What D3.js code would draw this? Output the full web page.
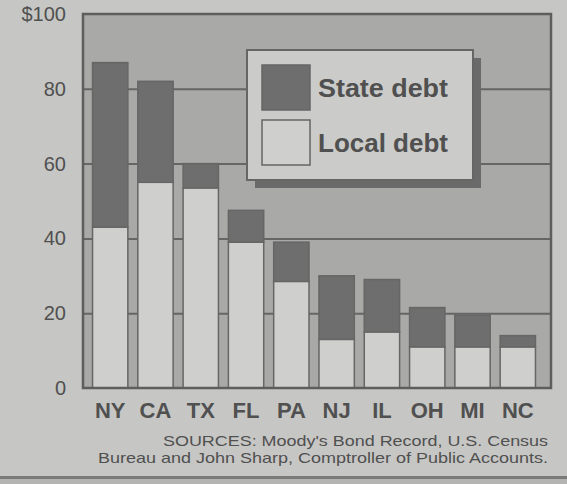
<!DOCTYPE html>
<meta charset="utf-8">
<body style="margin:0;background:#c6c6c4;">
<style>
  text { font-family: "Liberation Sans", Arial, sans-serif; fill: #505050; }
</style>
<div id="box"></div>
<script src="https://d3js.org/d3.v7.min.js"></script>
<script>
  // debt per capita, dollars
  var states = ["NY", "CA", "TX", "FL", "PA", "NJ", "IL", "OH", "MI", "NC"];
  var localDebt = [43, 55, 53.5, 39, 28.5, 13, 15, 11, 11, 11];
  var stateDebt = [44, 27, 6.5, 8.5, 10.5, 17, 14, 10.5, 8.5, 3];
  var yTicks = [0, 20, 40, 60, 80, 100];
  var seriesNames = ["State debt", "Local debt"];
  var sources = ["SOURCES: Moody's Bond Record, U.S. Census",
                 "Bureau and John Sharp, Comptroller of Public Accounts."];

  var W = 567, H = 484;
  var plot = {left: 83, top: 14, right: 551, bottom: 388};

  var svg = d3.select("#box").append("svg")
    .attr("width", W).attr("height", H);

  // paper
  svg.append("rect").attr("width", W).attr("height", H).attr("fill", "#c6c6c4");
  svg.append("rect").attr("x", 0).attr("y", 476).attr("width", W).attr("height", 3).attr("fill", "#7a7a7a");
  svg.append("rect").attr("x", 0).attr("y", 479).attr("width", W).attr("height", 5).attr("fill", "#b4b4b2");

  var x = d3.scaleBand().domain(states).range([88, 540])
    .paddingInner(0.22).paddingOuter(0.1);
  var y = d3.scaleLinear().domain([0, 100]).range([plot.bottom, plot.top]);

  // plot background
  svg.append("rect")
    .attr("x", plot.left).attr("y", plot.top)
    .attr("width", plot.right - plot.left).attr("height", plot.bottom - plot.top)
    .attr("fill", "#a9a9a7");

  // gridlines + labels
  var yAxis = svg.append("g")
    .attr("transform", "translate(" + plot.left + ",0)")
    .call(d3.axisLeft(y).tickValues(yTicks)
      .tickSizeInner(-(plot.right - plot.left)).tickSizeOuter(0).tickPadding(17)
      .tickFormat(function(d) { return d === 100 ? "$100" : d; }));
  yAxis.select(".domain").remove();
  yAxis.selectAll("line")
    .attr("stroke", "#666").attr("stroke-width", 2)
    .filter(function(d) { return d === 0 || d === 100; }).remove();
  yAxis.selectAll("text")
    .style("font-size", "20px").attr("fill", "#555");

  // bars
  var stack = states.map(function(s, i) {
    return {name: s, local: localDebt[i], state: stateDebt[i]};
  });
  var bars = svg.append("g").selectAll("g").data(stack).enter().append("g");
  bars.append("rect")
    .attr("x", function(d) { return x(d.name); })
    .attr("y", function(d) { return y(d.local); })
    .attr("width", x.bandwidth())
    .attr("height", function(d) { return y(0) - y(d.local); })
    .attr("fill", "#cfcfcd").attr("stroke", "#666").attr("stroke-width", 1.5);
  bars.append("rect")
    .attr("x", function(d) { return x(d.name); })
    .attr("y", function(d) { return y(d.local + d.state); })
    .attr("width", x.bandwidth())
    .attr("height", function(d) { return y(d.local) - y(d.local + d.state); })
    .attr("fill", "#6e6e6e").attr("stroke", "#666").attr("stroke-width", 1.5);

  // frame
  svg.append("rect")
    .attr("x", plot.left).attr("y", plot.top)
    .attr("width", plot.right - plot.left).attr("height", plot.bottom - plot.top)
    .attr("fill", "none").attr("stroke", "#5e5e5e").attr("stroke-width", 2.5);

  // category labels
  svg.append("g").selectAll("text").data(states).enter().append("text")
    .attr("x", function(d) { return x(d) + x.bandwidth() / 2; })
    .attr("y", 418)
    .attr("text-anchor", "middle")
    .style("font-size", "22px").style("font-weight", "bold")
    .text(function(d) { return d; });

  // legend
  var lg = svg.append("g");
  lg.append("rect").attr("x", 255).attr("y", 58).attr("width", 226).attr("height", 130).attr("fill", "#6a6a6a");
  lg.append("rect").attr("x", 247).attr("y", 50).attr("width", 226).attr("height", 130)
    .attr("fill", "#cbcbc9").attr("stroke", "#666").attr("stroke-width", 2);
  var swatch = [{fill: "#6e6e6e", y: 65}, {fill: "#cfcfcd", y: 120}];
  lg.selectAll(".sw").data(seriesNames).enter().append("rect")
    .attr("x", 262).attr("y", function(d, i) { return swatch[i].y; })
    .attr("width", 48).attr("height", 45)
    .attr("fill", function(d, i) { return swatch[i].fill; })
    .attr("stroke", "#666").attr("stroke-width", 1.5);
  lg.selectAll(".lt").data(seriesNames).enter().append("text")
    .attr("x", 318).attr("y", function(d, i) { return swatch[i].y + 32; })
    .style("font-size", "25px").style("font-weight", "bold")
    .attr("textLength", 130).attr("lengthAdjust", "spacingAndGlyphs")
    .text(function(d) { return d; });

  // sources
  svg.append("g").selectAll("text").data(sources).enter().append("text")
    .attr("x", 548).attr("y", function(d, i) { return 446 + i * 17; })
    .attr("text-anchor", "end")
    .style("font-size", "15px")
    .attr("textLength", function(d, i) { return i === 0 ? 385 : 450; })
    .attr("lengthAdjust", "spacingAndGlyphs")
    .text(function(d) { return d; });
</script>
